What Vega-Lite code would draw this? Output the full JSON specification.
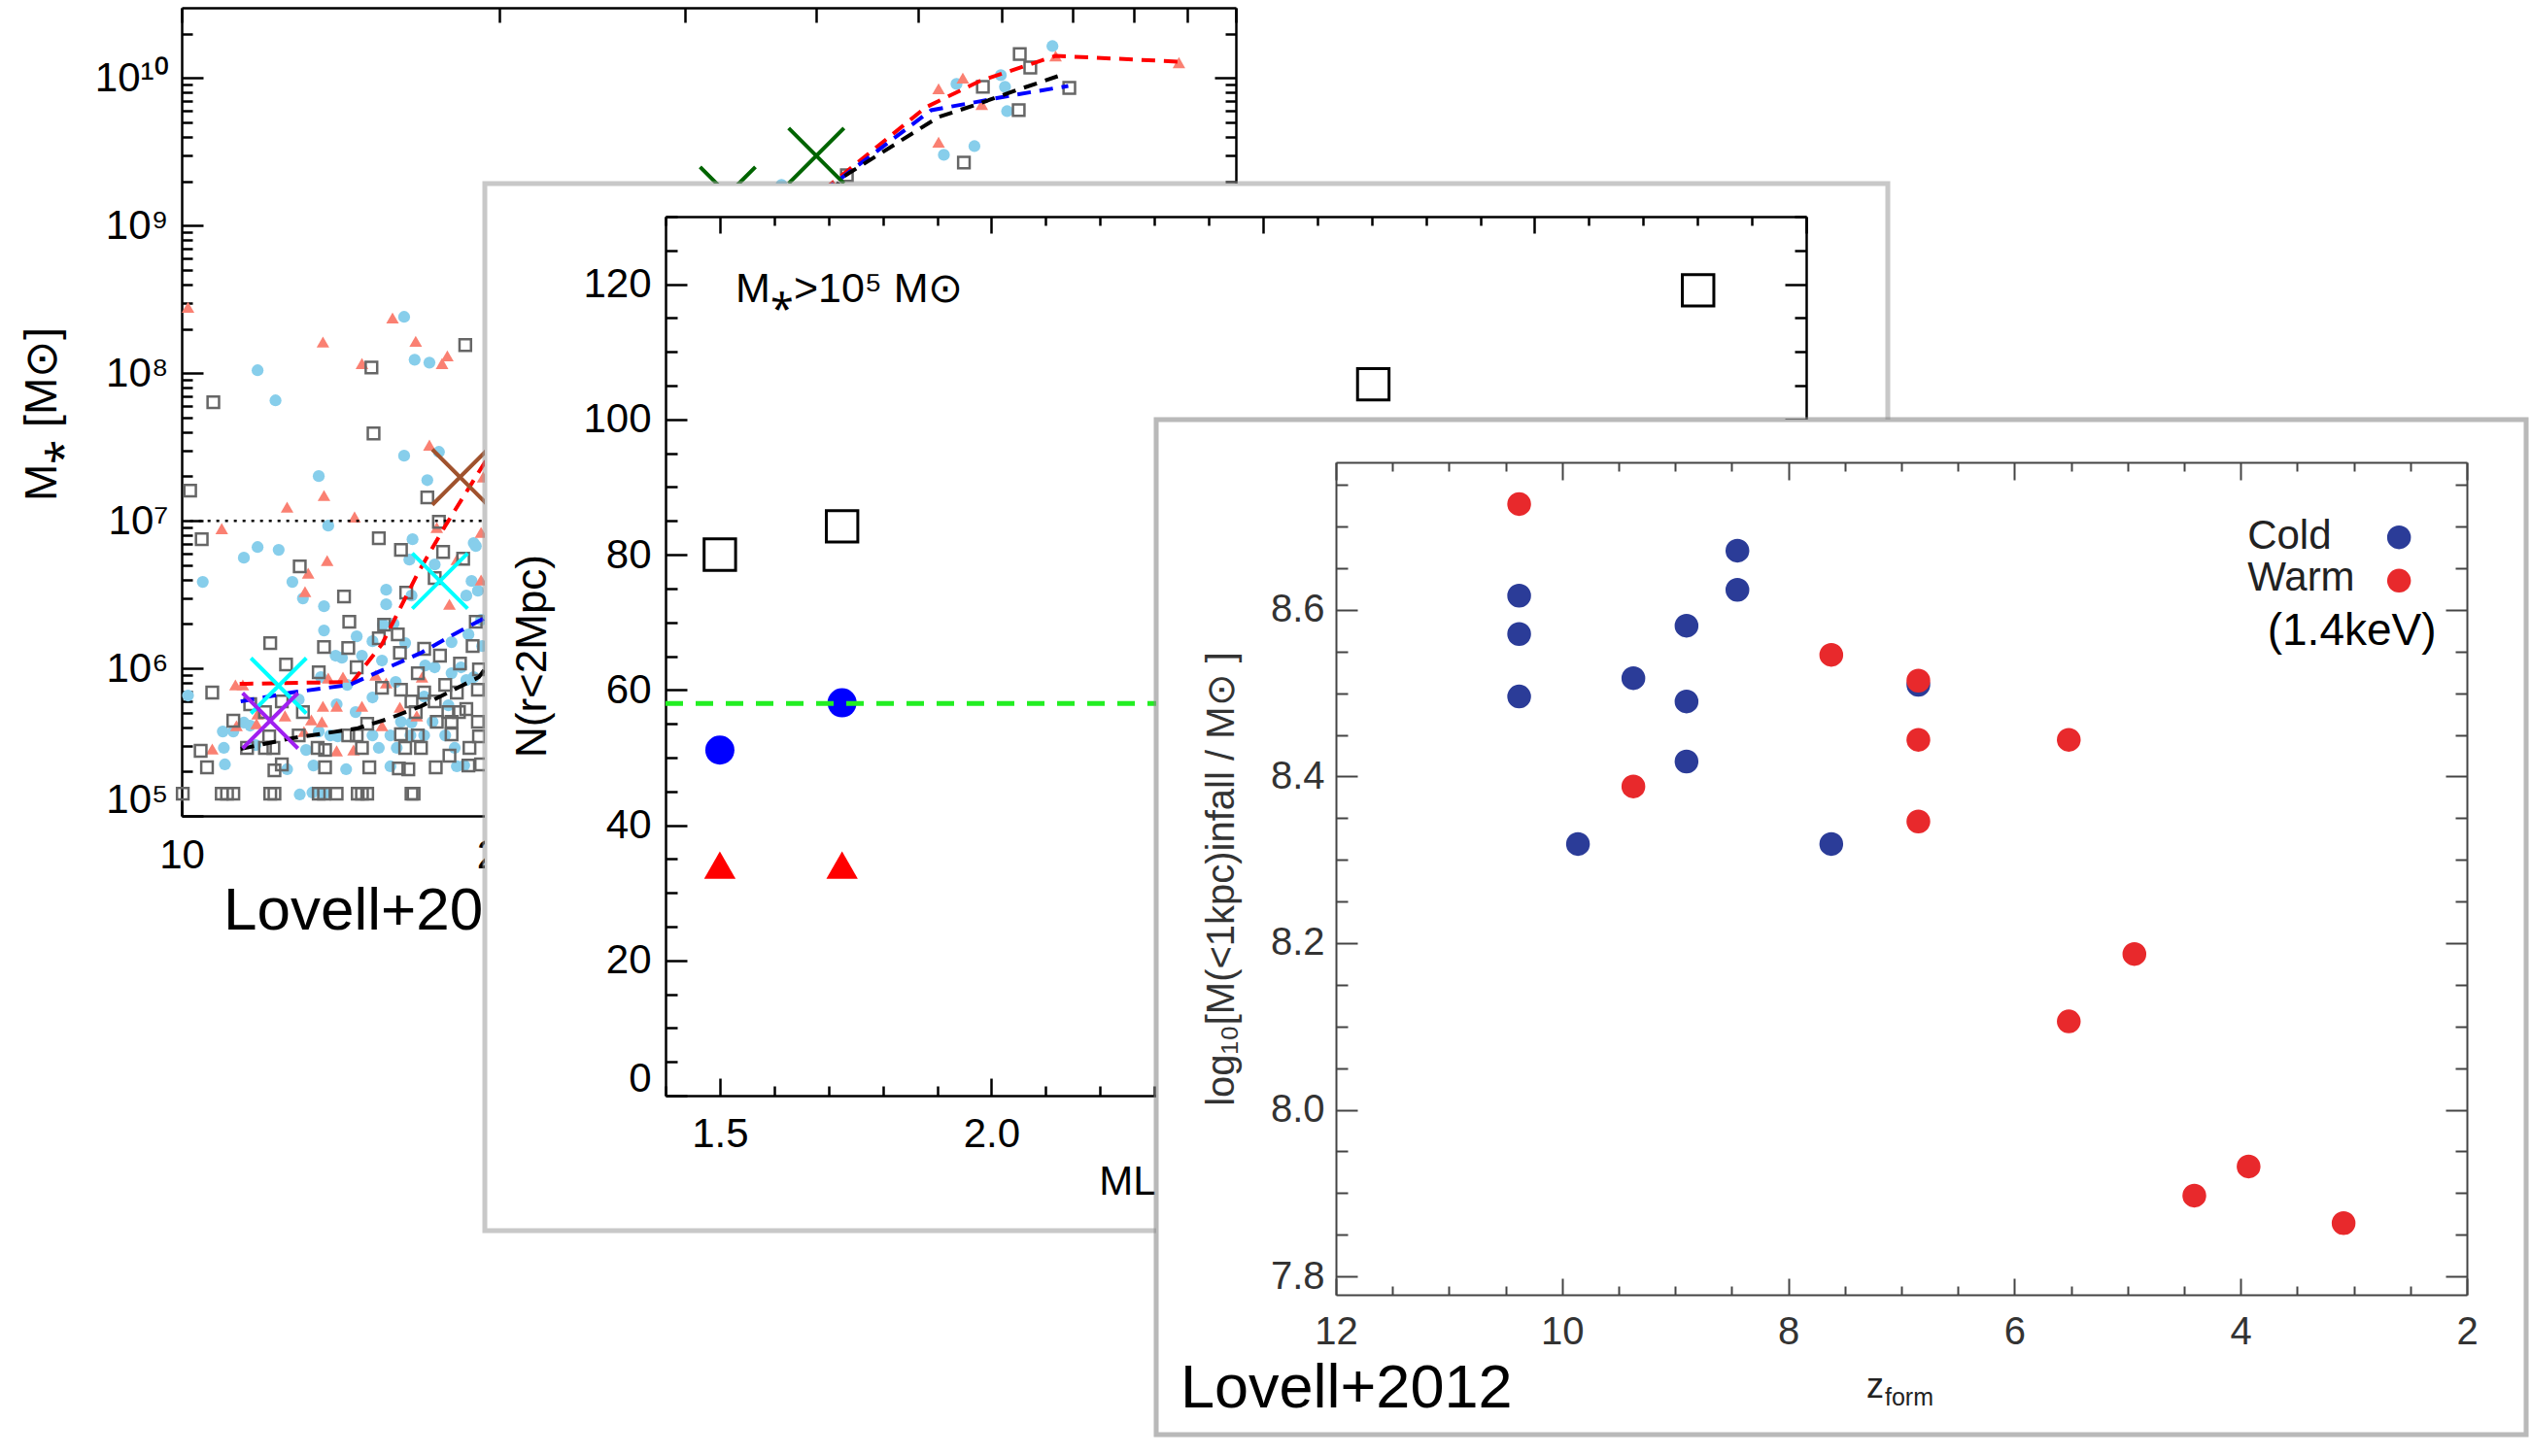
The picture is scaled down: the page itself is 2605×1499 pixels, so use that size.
{
  "$schema": "https://vega.github.io/schema/vega-lite/v6.json",
  "background": "white",
  "padding": 0,
  "config": {
    "view": {"stroke": null},
    "font": "Liberation Sans",
    "axis": {"grid": false, "labelFlush": false, "labelOverlap": false, "labelBound": false, "domainColor": "black", "tickColor": "black", "labelColor": "black", "titleColor": "black", "domainWidth": 2.5, "tickWidth": 2.5, "labelFontSize": 42, "titleFontSize": 42, "titleFontWeight": "normal", "labelFont": "Liberation Sans", "titleFont": "Liberation Sans"}
  },
  "datasets": {
    "back_circles": [{"lx":1.211,"ly":8.382},{"lx":1.072,"ly":8.02},{"lx":1.089,"ly":7.816},{"lx":1.221,"ly":8.092},{"lx":1.235,"ly":8.072},{"lx":1.211,"ly":7.441},{"lx":1.13,"ly":7.303},{"lx":1.233,"ly":7.276},{"lx":1.244,"ly":7.467},{"lx":1.139,"ly":6.967},{"lx":1.219,"ly":6.875},{"lx":1.277,"ly":6.849},{"lx":1.02,"ly":6.586},{"lx":1.059,"ly":6.75},{"lx":1.072,"ly":6.822},{"lx":1.092,"ly":6.803},{"lx":1.105,"ly":6.586},{"lx":1.115,"ly":6.474},{"lx":1.135,"ly":6.421},{"lx":1.135,"ly":6.257},{"lx":1.194,"ly":6.533},{"lx":1.194,"ly":6.434},{"lx":1.191,"ly":6.296},{"lx":1.216,"ly":6.737},{"lx":1.24,"ly":6.704},{"lx":1.218,"ly":6.493},{"lx":1.201,"ly":6.303},{"lx":1.166,"ly":6.217},{"lx":1.146,"ly":6.086},{"lx":1.152,"ly":6.072},{"lx":1.171,"ly":6.086},{"lx":1.181,"ly":6.184},{"lx":1.19,"ly":6.053},{"lx":1.212,"ly":6.171},{"lx":1.231,"ly":6.02},{"lx":1.256,"ly":5.967},{"lx":1.272,"ly":6.23},{"lx":1.256,"ly":6.178},{"lx":1.275,"ly":6.592},{"lx":1.27,"ly":6.493},{"lx":1.281,"ly":6.526},{"lx":1.284,"ly":6.329},{"lx":1.285,"ly":6.151},{"lx":1.279,"ly":6.829},{"lx":1.006,"ly":5.816},{"lx":1.039,"ly":5.572},{"lx":1.049,"ly":5.572},{"lx":1.059,"ly":5.632},{"lx":1.065,"ly":5.612},{"lx":1.04,"ly":5.461},{"lx":1.041,"ly":5.349},{"lx":1.07,"ly":5.48},{"lx":1.1,"ly":5.316},{"lx":1.118,"ly":5.447},{"lx":1.111,"ly":5.789},{"lx":1.132,"ly":5.941},{"lx":1.13,"ly":5.572},{"lx":1.141,"ly":5.546},{"lx":1.148,"ly":5.539},{"lx":1.147,"ly":5.757},{"lx":1.157,"ly":5.888},{"lx":1.165,"ly":5.704},{"lx":1.181,"ly":5.803},{"lx":1.181,"ly":5.546},{"lx":1.187,"ly":5.461},{"lx":1.198,"ly":5.336},{"lx":1.198,"ly":5.546},{"lx":1.203,"ly":5.908},{"lx":1.204,"ly":5.461},{"lx":1.217,"ly":5.546},{"lx":1.208,"ly":5.638},{"lx":1.218,"ly":5.632},{"lx":1.23,"ly":5.546},{"lx":1.238,"ly":5.638},{"lx":1.23,"ly":5.809},{"lx":1.253,"ly":5.75},{"lx":1.25,"ly":5.546},{"lx":1.259,"ly":5.461},{"lx":1.261,"ly":5.336},{"lx":1.268,"ly":5.342},{"lx":1.27,"ly":5.921},{"lx":1.277,"ly":5.941},{"lx":1.156,"ly":5.316},{"lx":1.125,"ly":5.342},{"lx":1.112,"ly":5.145},{"lx":1.124,"ly":5.158},{"lx":1.135,"ly":5.151},{"lx":1.265,"ly":6.007},{"lx":1.24,"ly":6.007},{"lx":1.735,"ly":9.961},{"lx":1.777,"ly":10.02},{"lx":1.781,"ly":9.941},{"lx":1.783,"ly":9.776},{"lx":1.826,"ly":10.217},{"lx":1.723,"ly":9.48},{"lx":1.752,"ly":9.539},{"lx":1.569,"ly":9.276}],
    "back_triangles": [{"lx":1.006,"ly":8.447},{"lx":1.134,"ly":8.211},{"lx":1.2,"ly":8.375},{"lx":1.222,"ly":8.217},{"lx":1.171,"ly":8.066},{"lx":1.247,"ly":8.066},{"lx":1.252,"ly":8.118},{"lx":1.235,"ly":7.513},{"lx":1.135,"ly":7.171},{"lx":1.1,"ly":7.092},{"lx":1.038,"ly":6.947},{"lx":1.164,"ly":7.026},{"lx":1.286,"ly":7.296},{"lx":1.242,"ly":6.954},{"lx":1.284,"ly":6.921},{"lx":1.138,"ly":6.73},{"lx":1.12,"ly":6.645},{"lx":1.117,"ly":6.52},{"lx":1.051,"ly":5.888},{"lx":1.058,"ly":5.888},{"lx":1.139,"ly":5.934},{"lx":1.153,"ly":5.941},{"lx":1.184,"ly":5.954},{"lx":1.194,"ly":5.901},{"lx":1.228,"ly":5.941},{"lx":1.134,"ly":5.743},{"lx":1.147,"ly":5.743},{"lx":1.171,"ly":5.743},{"lx":1.072,"ly":5.691},{"lx":1.052,"ly":5.612},{"lx":1.071,"ly":5.625},{"lx":1.098,"ly":5.678},{"lx":1.123,"ly":5.651},{"lx":1.133,"ly":5.638},{"lx":1.116,"ly":5.572},{"lx":1.19,"ly":5.612},{"lx":1.207,"ly":5.737},{"lx":1.223,"ly":5.678},{"lx":1.029,"ly":5.454},{"lx":1.147,"ly":5.441},{"lx":1.163,"ly":5.447},{"lx":1.254,"ly":6.434},{"lx":1.261,"ly":6.737},{"lx":1.284,"ly":6.599},{"lx":1.718,"ly":9.928},{"lx":1.741,"ly":10.0},{"lx":1.759,"ly":9.822},{"lx":1.829,"ly":10.151},{"lx":1.946,"ly":10.105},{"lx":1.718,"ly":9.566}],
    "back_squares": [{"lx":1.03,"ly":7.803},{"lx":1.18,"ly":8.039},{"lx":1.269,"ly":8.191},{"lx":1.182,"ly":7.592},{"lx":1.008,"ly":7.204},{"lx":1.233,"ly":7.158},{"lx":1.244,"ly":6.993},{"lx":1.019,"ly":6.875},{"lx":1.187,"ly":6.882},{"lx":1.029,"ly":5.836},{"lx":1.018,"ly":5.441},{"lx":1.024,"ly":5.329},{"lx":1.112,"ly":6.691},{"lx":1.154,"ly":6.487},{"lx":1.159,"ly":6.316},{"lx":1.135,"ly":6.145},{"lx":1.158,"ly":6.138},{"lx":1.084,"ly":6.171},{"lx":1.099,"ly":6.026},{"lx":1.13,"ly":5.974},{"lx":1.166,"ly":6.007},{"lx":1.208,"ly":6.803},{"lx":1.248,"ly":6.789},{"lx":1.267,"ly":6.743},{"lx":1.24,"ly":6.612},{"lx":1.213,"ly":6.513},{"lx":1.192,"ly":6.296},{"lx":1.205,"ly":6.23},{"lx":1.187,"ly":6.204},{"lx":1.207,"ly":6.105},{"lx":1.23,"ly":6.132},{"lx":1.245,"ly":6.086},{"lx":1.264,"ly":6.033},{"lx":1.282,"ly":5.993},{"lx":1.224,"ly":5.967},{"lx":1.19,"ly":5.868},{"lx":1.208,"ly":5.855},{"lx":1.23,"ly":5.836},{"lx":1.25,"ly":5.888},{"lx":1.261,"ly":5.836},{"lx":1.281,"ly":5.855},{"lx":1.218,"ly":5.776},{"lx":1.24,"ly":5.776},{"lx":1.253,"ly":5.704},{"lx":1.263,"ly":5.704},{"lx":1.27,"ly":5.724},{"lx":1.222,"ly":5.704},{"lx":1.242,"ly":5.638},{"lx":1.256,"ly":5.638},{"lx":1.281,"ly":5.638},{"lx":1.176,"ly":5.625},{"lx":1.158,"ly":5.546},{"lx":1.166,"ly":5.546},{"lx":1.208,"ly":5.553},{"lx":1.224,"ly":5.546},{"lx":1.256,"ly":5.553},{"lx":1.282,"ly":5.539},{"lx":1.171,"ly":5.461},{"lx":1.212,"ly":5.461},{"lx":1.227,"ly":5.461},{"lx":1.254,"ly":5.408},{"lx":1.273,"ly":5.461},{"lx":1.129,"ly":5.461},{"lx":1.136,"ly":5.447},{"lx":1.062,"ly":5.461},{"lx":1.079,"ly":5.461},{"lx":1.087,"ly":5.461},{"lx":1.095,"ly":5.349},{"lx":1.088,"ly":5.309},{"lx":1.079,"ly":5.704},{"lx":1.095,"ly":5.776},{"lx":1.115,"ly":5.704},{"lx":1.065,"ly":5.757},{"lx":1.049,"ly":5.645},{"lx":1.083,"ly":5.539},{"lx":1.111,"ly":5.546},{"lx":1.136,"ly":5.329},{"lx":1.178,"ly":5.329},{"lx":1.206,"ly":5.322},{"lx":1.215,"ly":5.316},{"lx":1.241,"ly":5.329},{"lx":1.272,"ly":5.342},{"lx":1.284,"ly":5.349},{"lx":1.001,"ly":5.151},{"lx":1.038,"ly":5.151},{"lx":1.043,"ly":5.151},{"lx":1.049,"ly":5.151},{"lx":1.084,"ly":5.151},{"lx":1.088,"ly":5.151},{"lx":1.13,"ly":5.151},{"lx":1.135,"ly":5.151},{"lx":1.147,"ly":5.151},{"lx":1.167,"ly":5.151},{"lx":1.171,"ly":5.151},{"lx":1.176,"ly":5.151},{"lx":1.218,"ly":5.151},{"lx":1.22,"ly":5.151},{"lx":1.276,"ly":6.151},{"lx":1.279,"ly":6.316},{"lx":1.795,"ly":10.164},{"lx":1.805,"ly":10.072},{"lx":1.76,"ly":9.941},{"lx":1.794,"ly":9.783},{"lx":1.842,"ly":9.934},{"lx":1.742,"ly":9.428},{"lx":1.631,"ly":9.342}],
    "back_lines": [{"series":"a","lx":1.055,"ly":5.895},{"series":"a","lx":1.162,"ly":5.908},{"series":"a","lx":1.19,"ly":6.164},{"series":"a","lx":1.224,"ly":6.645},{"series":"a","lx":1.249,"ly":6.954},{"series":"a","lx":1.288,"ly":7.401},{"series":"a","lx":1.624,"ly":9.329},{"series":"a","lx":1.706,"ly":9.803},{"series":"a","lx":1.757,"ly":9.98},{"series":"a","lx":1.829,"ly":10.151},{"series":"a","lx":1.945,"ly":10.112},{"series":"b","lx":1.056,"ly":5.776},{"series":"b","lx":1.104,"ly":5.836},{"series":"b","lx":1.159,"ly":5.888},{"series":"b","lx":1.19,"ly":5.987},{"series":"b","lx":1.227,"ly":6.105},{"series":"b","lx":1.258,"ly":6.23},{"series":"b","lx":1.286,"ly":6.336},{"series":"b","lx":1.617,"ly":9.276},{"series":"b","lx":1.711,"ly":9.783},{"series":"b","lx":1.752,"ly":9.836},{"series":"b","lx":1.791,"ly":9.888},{"series":"b","lx":1.841,"ly":9.947},{"series":"c","lx":1.056,"ly":5.454},{"series":"c","lx":1.104,"ly":5.526},{"series":"c","lx":1.166,"ly":5.592},{"series":"c","lx":1.196,"ly":5.658},{"series":"c","lx":1.227,"ly":5.743},{"series":"c","lx":1.258,"ly":5.855},{"series":"c","lx":1.282,"ly":5.941},{"series":"c","lx":1.627,"ly":9.329},{"series":"c","lx":1.718,"ly":9.737},{"series":"c","lx":1.752,"ly":9.816},{"series":"c","lx":1.793,"ly":9.921},{"series":"c","lx":1.831,"ly":10.013}],
    "back_crosses": [{"set":"a","lx":1.092,"ly":5.882},{"set":"b","lx":1.084,"ly":5.645},{"set":"a","lx":1.245,"ly":6.592},{"set":"c","lx":1.264,"ly":7.296},{"set":"d","lx":1.602,"ly":9.474},{"set":"d","lx":1.518,"ly":9.211}],
    "mid_squares": [{"x":1.5,"n":80.0},{"x":1.725,"n":84.2},{"x":2.703,"n":105.2},{"x":3.301,"n":119.1}],
    "mid_circles": [{"x":1.5,"n":51.1},{"x":1.725,"n":58.1}],
    "mid_triangles": [{"x":1.5,"n":34.1},{"x":1.725,"n":34.1}],
    "front_points": [{"model":"Cold","z":10.38,"m":8.617},{"model":"Cold","z":10.38,"m":8.571},{"model":"Cold","z":10.38,"m":8.496},{"model":"Cold","z":9.86,"m":8.319},{"model":"Cold","z":9.37,"m":8.518},{"model":"Cold","z":8.9,"m":8.581},{"model":"Cold","z":8.9,"m":8.49},{"model":"Cold","z":8.9,"m":8.418},{"model":"Cold","z":8.45,"m":8.671},{"model":"Cold","z":8.45,"m":8.624},{"model":"Cold","z":7.62,"m":8.319},{"model":"Cold","z":6.85,"m":8.51},{"model":"Warm","z":10.38,"m":8.727},{"model":"Warm","z":9.37,"m":8.388},{"model":"Warm","z":7.62,"m":8.546},{"model":"Warm","z":6.85,"m":8.515},{"model":"Warm","z":6.85,"m":8.444},{"model":"Warm","z":6.85,"m":8.346},{"model":"Warm","z":5.52,"m":8.444},{"model":"Warm","z":4.94,"m":8.187},{"model":"Warm","z":5.52,"m":8.106},{"model":"Warm","z":3.93,"m":7.932},{"model":"Warm","z":4.41,"m":7.897},{"model":"Warm","z":3.09,"m":7.864}]
  },
  "columns": 3,
  "align": "none",
  "bounds": "flush",
  "spacing": {"row": -900, "column": -800},
  "concat": [
    {
      "width": 1299, "height": 1089,
      "resolve": {"axis": {"x": "independent", "y": "independent"}, "scale": {"color": "independent"}},
      "layer": [
        {
          "data": {"name": "back_circles"},
          "mark": {"type": "point", "shape": "circle", "filled": true, "color": "#87CEEB", "size": 150, "opacity": 1},
          "encoding": {
            "x": {"field": "lx", "type": "quantitative", "scale": {"domain": [1, 2], "range": [187, 1272], "nice": false, "zero": false},
                  "axis": {"orient": "bottom", "offset": -249, "values": [1, 1.30103, 1.47712, 1.60206, 1.69897, 1.77815, 1.8451, 1.90309, 1.95424, 2], "tickSize": -15, "labelExpr": "datum.value < 1.35 ? '' + round(pow(10, datum.value)) : ''", "labelPadding": 35, "title": null}},
            "y": {"field": "ly", "type": "quantitative", "scale": {"domain": [5, 10.477], "range": [840, 8], "nice": false, "zero": false},
                  "axis": {"orient": "left", "offset": -187, "values": [5, 6, 7, 8, 9, 10], "tickSize": -22, "labelPadding": 36, "labelExpr": "datum.value == 6 ? '10⁶' : datum.value == 7 ? '10⁷' : datum.value == 8 ? '10⁸' : datum.value == 9 ? '10⁹' : datum.value == 10 ? '10¹⁰' : ''", "title": "M⁎ [M⊙]", "titleFontSize": 46, "titleX": -144, "titleY": 426, "titleBaseline": "middle"}}
          }
        },
        {
          "data": {"name": "back_triangles"},
          "mark": {"type": "point", "shape": "triangle-up", "filled": true, "color": "#FA8072", "size": 170, "opacity": 1},
          "encoding": {
            "x": {"field": "lx", "type": "quantitative", "scale": {"domain": [1, 2], "range": [187, 1272], "nice": false, "zero": false},
                  "axis": {"orient": "top", "offset": -8, "values": [1, 1.30103, 1.47712, 1.60206, 1.69897, 1.77815, 1.8451, 1.90309, 1.95424, 2], "tickSize": -15, "labels": false, "title": null}},
            "y": {"field": "ly", "type": "quantitative", "scale": {"domain": [5, 10.477], "range": [840, 8], "nice": false, "zero": false},
                  "axis": {"orient": "left", "offset": -187, "values": [5.30103,5.47712,5.60206,5.69897,5.77815,5.8451,5.90309,5.95424,6.30103,6.47712,6.60206,6.69897,6.77815,6.8451,6.90309,6.95424,7.30103,7.47712,7.60206,7.69897,7.77815,7.8451,7.90309,7.95424,8.30103,8.47712,8.60206,8.69897,8.77815,8.8451,8.90309,8.95424,9.30103,9.47712,9.60206,9.69897,9.77815,9.8451,9.90309,9.95424,10.30103], "tickSize": -11, "labels": false, "domain": false, "title": null}}
          }
        },
        {
          "data": {"name": "back_squares"},
          "mark": {"type": "point", "shape": "square", "filled": false, "color": "#666666", "strokeWidth": 2.5, "size": 140, "opacity": 1},
          "encoding": {
            "x": {"field": "lx", "type": "quantitative", "scale": {"domain": [1, 2], "range": [187, 1272], "nice": false, "zero": false}, "axis": null},
            "y": {"field": "ly", "type": "quantitative", "scale": {"domain": [5, 10.477], "range": [840, 8], "nice": false, "zero": false},
                  "axis": {"orient": "right", "offset": -27, "values": [5, 6, 7, 8, 9, 10], "tickSize": -22, "labels": false, "title": null}}
          }
        },
        {
          "data": {"values": [{}]},
          "mark": {"type": "rule", "strokeDash": [3, 6], "strokeWidth": 2.5, "color": "black"},
          "encoding": {
            "x": {"datum": 1.008, "type": "quantitative", "scale": {"domain": [1, 2], "range": [187, 1272], "nice": false, "zero": false}, "axis": null},
            "x2": {"datum": 2},
            "y": {"datum": 7, "type": "quantitative", "scale": {"domain": [5, 10.477], "range": [840, 8], "nice": false, "zero": false},
                  "axis": {"orient": "right", "offset": -27, "values": [5.30103,5.47712,5.60206,5.69897,5.77815,5.8451,5.90309,5.95424,6.30103,6.47712,6.60206,6.69897,6.77815,6.8451,6.90309,6.95424,7.30103,7.47712,7.60206,7.69897,7.77815,7.8451,7.90309,7.95424,8.30103,8.47712,8.60206,8.69897,8.77815,8.8451,8.90309,8.95424,9.30103,9.47712,9.60206,9.69897,9.77815,9.8451,9.90309,9.95424,10.30103], "tickSize": -11, "labels": false, "domain": false, "title": null}}
          }
        },
        {
          "data": {"name": "back_lines"},
          "mark": {"type": "line", "strokeDash": [14, 9], "strokeWidth": 4},
          "encoding": {
            "x": {"field": "lx", "type": "quantitative", "scale": {"domain": [1, 2], "range": [187, 1272], "nice": false, "zero": false}, "axis": null},
            "y": {"field": "ly", "type": "quantitative", "scale": {"domain": [5, 10.477], "range": [840, 8], "nice": false, "zero": false}, "axis": null},
            "color": {"field": "series", "type": "nominal", "scale": {"domain": ["a", "b", "c"], "range": ["#FF0000", "#0000FF", "#000000"]}, "legend": null}
          }
        },
        {
          "data": {"name": "back_crosses"},
          "mark": {"type": "point", "shape": "M-1,-1L1,1M-1,1L1,-1", "filled": false, "strokeWidth": 4, "size": 3249, "opacity": 1},
          "encoding": {
            "x": {"field": "lx", "type": "quantitative", "scale": {"domain": [1, 2], "range": [187, 1272], "nice": false, "zero": false}, "axis": null},
            "y": {"field": "ly", "type": "quantitative", "scale": {"domain": [5, 10.477], "range": [840, 8], "nice": false, "zero": false}, "axis": null},
            "color": {"field": "set", "type": "nominal", "scale": {"domain": ["a", "b", "c", "d"], "range": ["#00FFFF", "#A020F0", "#A0522D", "#006400"]}, "legend": null}
          }
        },
        {
          "data": {"values": [{}]},
          "mark": {"type": "text", "text": "Lovell+2014", "fontSize": 62, "align": "left", "baseline": "alphabetic", "color": "black", "font": "Liberation Sans"},
          "encoding": {
            "x": {"datum": 1.0396, "type": "quantitative", "scale": {"domain": [1, 2], "range": [187, 1272], "nice": false, "zero": false}, "axis": null},
            "y": {"datum": 4.23, "type": "quantitative", "scale": {"domain": [5, 10.477], "range": [840, 8], "nice": false, "zero": false},
                  "axis": {"orient": "left", "offset": -187, "values": [5], "ticks": false, "domain": false, "labelOffset": -17, "labelPadding": 14, "labelExpr": "'10⁵'", "title": null}}
          }
        }
      ]
    },
    {"width": 1491, "height": 1089, "data": {"values": []}, "mark": {"type": "point", "opacity": 0}},
    {"width": 10, "height": 1089, "data": {"values": []}, "mark": {"type": "point", "opacity": 0}},
    {"width": 1299, "height": 10, "data": {"values": []}, "mark": {"type": "point", "opacity": 0}},
    {
      "width": 1444, "height": 1078,
      "view": {"fill": "white", "stroke": "#9a9a9a", "strokeWidth": 5, "strokeOpacity": 0.55},
      "resolve": {"axis": {"x": "independent", "y": "independent"}},
      "layer": [
        {
          "data": {"name": "mid_squares"},
          "mark": {"type": "point", "shape": "square", "filled": false, "color": "black", "strokeWidth": 3, "size": 1050, "opacity": 1},
          "encoding": {
            "x": {"field": "x", "type": "quantitative", "scale": {"domain": [1.4, 3.5], "range": [186, 1360], "nice": false, "zero": false},
                  "axis": {"orient": "bottom", "offset": -139, "values": [1.5, 2, 2.5, 3, 3.5], "labelExpr": "datum.value < 2.01 ? format(datum.value, '.1f') : ''", "tickSize": -18, "labelPadding": 37, "title": "MLG [10¹² M⊙]", "titleY": 101, "titleBaseline": "alphabetic"}},
            "y": {"field": "n", "type": "quantitative", "scale": {"domain": [0, 130], "range": [939, 34], "nice": false, "zero": false},
                  "axis": {"orient": "left", "offset": -186, "values": [0, 20, 40, 60, 80, 100, 120], "labelExpr": "datum.value == 0 ? '' : format(datum.value, 'd')", "tickSize": -22, "labelPadding": 37, "title": "N(r<2Mpc)", "titleFontSize": 44, "titleX": -137, "titleY": 486, "titleBaseline": "middle"}}
          }
        },
        {
          "data": {"name": "mid_circles"},
          "mark": {"type": "point", "shape": "circle", "filled": true, "color": "#0000FF", "size": 900, "opacity": 1},
          "encoding": {
            "x": {"field": "x", "type": "quantitative", "scale": {"domain": [1.4, 3.5], "range": [186, 1360], "nice": false, "zero": false},
                  "axis": {"orient": "bottom", "offset": -139, "values": [1.4, 1.6, 1.7, 1.8, 1.9, 2.1, 2.2, 2.3, 2.4, 2.6, 2.7, 2.8, 2.9, 3.1, 3.2, 3.3, 3.4], "tickSize": -10, "labels": false, "domain": false, "title": null}},
            "y": {"field": "n", "type": "quantitative", "scale": {"domain": [0, 130], "range": [939, 34], "nice": false, "zero": false},
                  "axis": {"orient": "left", "offset": -186, "values": [5, 10, 15, 25, 30, 35, 45, 50, 55, 65, 70, 75, 85, 90, 95, 105, 110, 115, 125, 130], "tickSize": -12, "labels": false, "domain": false, "title": null}}
          }
        },
        {
          "data": {"name": "mid_triangles"},
          "mark": {"type": "point", "shape": "triangle-up", "filled": true, "color": "#FF0000", "size": 1050, "opacity": 1},
          "encoding": {
            "x": {"field": "x", "type": "quantitative", "scale": {"domain": [1.4, 3.5], "range": [186, 1360], "nice": false, "zero": false},
                  "axis": {"orient": "top", "offset": -34, "values": [1.5, 2, 2.5, 3, 3.5], "tickSize": -17, "labels": false, "title": null}},
            "y": {"field": "n", "type": "quantitative", "scale": {"domain": [0, 130], "range": [939, 34], "nice": false, "zero": false},
                  "axis": {"orient": "right", "offset": -84, "values": [0, 20, 40, 60, 80, 100, 120], "tickSize": -22, "labels": false, "title": null}}
          }
        },
        {
          "data": {"values": [{}]},
          "mark": {"type": "rule", "strokeDash": [18, 13], "strokeWidth": 5, "color": "#22EE22"},
          "encoding": {
            "x": {"datum": 1.4, "type": "quantitative", "scale": {"domain": [1.4, 3.5], "range": [186, 1360], "nice": false, "zero": false},
                  "axis": {"orient": "top", "offset": -34, "values": [1.4, 1.6, 1.7, 1.8, 1.9, 2.1, 2.2, 2.3, 2.4, 2.6, 2.7, 2.8, 2.9, 3.1, 3.2, 3.3, 3.4], "tickSize": -9, "labels": false, "domain": false, "title": null}},
            "x2": {"datum": 3.5},
            "y": {"datum": 58, "type": "quantitative", "scale": {"domain": [0, 130], "range": [939, 34], "nice": false, "zero": false},
                  "axis": {"orient": "right", "offset": -84, "values": [5, 10, 15, 25, 30, 35, 45, 50, 55, 65, 70, 75, 85, 90, 95, 105, 110, 115, 125, 130], "tickSize": -12, "labels": false, "domain": false, "title": null}}
          }
        },
        {
          "data": {"values": [{}]},
          "mark": {"type": "text", "text": "M⁎>10⁵ M⊙", "fontSize": 43, "align": "left", "baseline": "alphabetic", "color": "black", "font": "Liberation Sans"},
          "encoding": {
            "x": {"datum": 1.529, "type": "quantitative", "scale": {"domain": [1.4, 3.5], "range": [186, 1360], "nice": false, "zero": false}, "axis": null},
            "y": {"datum": 117.3, "type": "quantitative", "scale": {"domain": [0, 130], "range": [939, 34], "nice": false, "zero": false},
                  "axis": {"orient": "left", "offset": -186, "values": [0], "ticks": false, "domain": false, "labelOffset": -18, "labelPadding": 15, "format": "d", "title": null}}
          }
        }
      ]
    },
    {"width": 10, "height": 1143, "data": {"values": []}, "mark": {"type": "point", "opacity": 0}},
    {"width": 1299, "height": 10, "data": {"values": []}, "mark": {"type": "point", "opacity": 0}},
    {"width": 1491, "height": 10, "data": {"values": []}, "mark": {"type": "point", "opacity": 0}},
    {
      "width": 1410, "height": 1045,
      "view": {"fill": "white", "stroke": "#8a8a8a", "strokeWidth": 5, "strokeOpacity": 0.6},
      "resolve": {"axis": {"x": "independent", "y": "independent"}},
      "layer": [
        {
          "data": {"name": "front_points"},
          "mark": {"type": "point", "shape": "circle", "filled": true, "size": 600, "opacity": 1},
          "encoding": {
            "x": {"field": "z", "type": "quantitative", "scale": {"domain": [12, 2], "range": [185, 1349], "nice": false, "zero": false},
                  "axis": {"orient": "bottom", "offset": -144, "values": [2, 4, 6, 8, 10, 12], "format": "d", "tickSize": -17, "labelPadding": 35, "labelFontSize": 40, "title": null, "domainColor": "#444", "tickColor": "#444", "labelColor": "#333", "domainWidth": 2, "tickWidth": 2}},
            "y": {"field": "m", "type": "quantitative", "scale": {"domain": [7.778, 8.777], "range": [901, 44], "nice": false, "zero": false},
                  "axis": {"orient": "left", "offset": -185, "values": [7.8, 8.0, 8.2, 8.4, 8.6], "format": ".1f", "tickSize": -22, "labelPadding": 34, "labelFontSize": 40, "title": "log₁₀[M(<1kpc)infall / M⊙ ]", "titleFontSize": 40, "titleColor": "#333", "titleX": -118, "titleY": 472.5, "titleBaseline": "middle", "domainColor": "#444", "tickColor": "#444", "labelColor": "#333", "domainWidth": 2, "tickWidth": 2}},
            "color": {"field": "model", "type": "nominal", "scale": {"domain": ["Cold", "Warm"], "range": ["#2B3C98", "#E8292C"]}, "legend": null}
          }
        },
        {
          "data": {"values": [{}]},
          "mark": {"type": "text", "text": "Lovell+2012", "fontSize": 63, "align": "left", "baseline": "alphabetic", "color": "black", "font": "Liberation Sans"},
          "encoding": {
            "x": {"datum": 13.375, "type": "quantitative", "scale": {"domain": [12, 2], "range": [185, 1349], "nice": false, "zero": false},
                  "axis": {"orient": "bottom", "offset": -144, "values": [2.5, 3, 3.5, 4.5, 5, 5.5, 6.5, 7, 7.5, 8.5, 9, 9.5, 10.5, 11, 11.5], "tickSize": -9, "labels": false, "domain": false, "title": null, "tickColor": "#444", "tickWidth": 2}},
            "y": {"datum": 7.643, "type": "quantitative", "scale": {"domain": [7.778, 8.777], "range": [901, 44], "nice": false, "zero": false},
                  "axis": {"orient": "left", "offset": -185, "values": [7.85, 7.9, 7.95, 8.05, 8.1, 8.15, 8.25, 8.3, 8.35, 8.45, 8.5, 8.55, 8.65, 8.7, 8.75], "tickSize": -12, "labels": false, "domain": false, "title": null, "tickColor": "#444", "tickWidth": 2}}
          }
        },
        {
          "data": {"values": [{}]},
          "mark": {"type": "point", "shape": "circle", "filled": true, "size": 600, "opacity": 1, "color": "#2B3C98"},
          "encoding": {
            "x": {"datum": 2.6, "type": "quantitative", "scale": {"domain": [12, 2], "range": [185, 1349], "nice": false, "zero": false},
                  "axis": {"orient": "top", "offset": -44, "values": [2, 4, 6, 8, 10, 12], "tickSize": -18, "labels": false, "title": null, "domainColor": "#444", "tickColor": "#444", "domainWidth": 2, "tickWidth": 2}},
            "y": {"datum": 8.687, "type": "quantitative", "scale": {"domain": [7.778, 8.777], "range": [901, 44], "nice": false, "zero": false},
                  "axis": {"orient": "right", "offset": -61, "values": [7.8, 8.0, 8.2, 8.4, 8.6], "tickSize": -22, "labels": false, "title": null, "domainColor": "#444", "tickColor": "#444", "domainWidth": 2, "tickWidth": 2}}
          }
        },
        {
          "data": {"values": [{}]},
          "mark": {"type": "point", "shape": "circle", "filled": true, "size": 600, "opacity": 1, "color": "#E8292C"},
          "encoding": {
            "x": {"datum": 2.6, "type": "quantitative", "scale": {"domain": [12, 2], "range": [185, 1349], "nice": false, "zero": false},
                  "axis": {"orient": "top", "offset": -44, "values": [2.5, 3, 3.5, 4.5, 5, 5.5, 6.5, 7, 7.5, 8.5, 9, 9.5, 10.5, 11, 11.5], "tickSize": -9, "labels": false, "domain": false, "title": null, "tickColor": "#444", "tickWidth": 2}},
            "y": {"datum": 8.635, "type": "quantitative", "scale": {"domain": [7.778, 8.777], "range": [901, 44], "nice": false, "zero": false},
                  "axis": {"orient": "right", "offset": -61, "values": [7.85, 7.9, 7.95, 8.05, 8.1, 8.15, 8.25, 8.3, 8.35, 8.45, 8.5, 8.55, 8.65, 8.7, 8.75], "tickSize": -12, "labels": false, "domain": false, "title": null, "tickColor": "#444", "tickWidth": 2}}
          }
        },
        {
          "data": {"values": [{}]},
          "mark": {"type": "text", "text": "Cold", "fontSize": 42, "align": "left", "baseline": "alphabetic", "color": "#222", "font": "Liberation Sans"},
          "encoding": {
            "x": {"datum": 3.94, "type": "quantitative", "scale": {"domain": [12, 2], "range": [185, 1349], "nice": false, "zero": false}, "axis": null},
            "y": {"datum": 8.673, "type": "quantitative", "scale": {"domain": [7.778, 8.777], "range": [901, 44], "nice": false, "zero": false}, "axis": null}
          }
        },
        {
          "data": {"values": [{}]},
          "mark": {"type": "text", "text": "Warm", "fontSize": 42, "align": "left", "baseline": "alphabetic", "color": "#222", "font": "Liberation Sans"},
          "encoding": {
            "x": {"datum": 3.94, "type": "quantitative", "scale": {"domain": [12, 2], "range": [185, 1349], "nice": false, "zero": false}, "axis": null},
            "y": {"datum": 8.623, "type": "quantitative", "scale": {"domain": [7.778, 8.777], "range": [901, 44], "nice": false, "zero": false}, "axis": null}
          }
        },
        {
          "data": {"values": [{}]},
          "mark": {"type": "text", "text": "(1.4keV)", "fontSize": 46, "align": "right", "baseline": "alphabetic", "color": "black", "font": "Liberation Sans"},
          "encoding": {
            "x": {"datum": 2.27, "type": "quantitative", "scale": {"domain": [12, 2], "range": [185, 1349], "nice": false, "zero": false}, "axis": null},
            "y": {"datum": 8.558, "type": "quantitative", "scale": {"domain": [7.778, 8.777], "range": [901, 44], "nice": false, "zero": false}, "axis": null}
          }
        },
        {
          "data": {"values": [{}]},
          "mark": {"type": "text", "text": "z", "fontSize": 36, "align": "left", "baseline": "alphabetic", "color": "#222", "font": "Liberation Sans"},
          "encoding": {
            "x": {"datum": 7.309, "type": "quantitative", "scale": {"domain": [12, 2], "range": [185, 1349], "nice": false, "zero": false}, "axis": null},
            "y": {"datum": 7.655, "type": "quantitative", "scale": {"domain": [7.778, 8.777], "range": [901, 44], "nice": false, "zero": false}, "axis": null}
          }
        },
        {
          "data": {"values": [{}]},
          "mark": {"type": "text", "text": "form", "fontSize": 25, "align": "left", "baseline": "alphabetic", "color": "#222", "font": "Liberation Sans"},
          "encoding": {
            "x": {"datum": 7.146, "type": "quantitative", "scale": {"domain": [12, 2], "range": [185, 1349], "nice": false, "zero": false}, "axis": null},
            "y": {"datum": 7.645, "type": "quantitative", "scale": {"domain": [7.778, 8.777], "range": [901, 44], "nice": false, "zero": false}, "axis": null}
          }
        }
      ]
    }
  ]
}
